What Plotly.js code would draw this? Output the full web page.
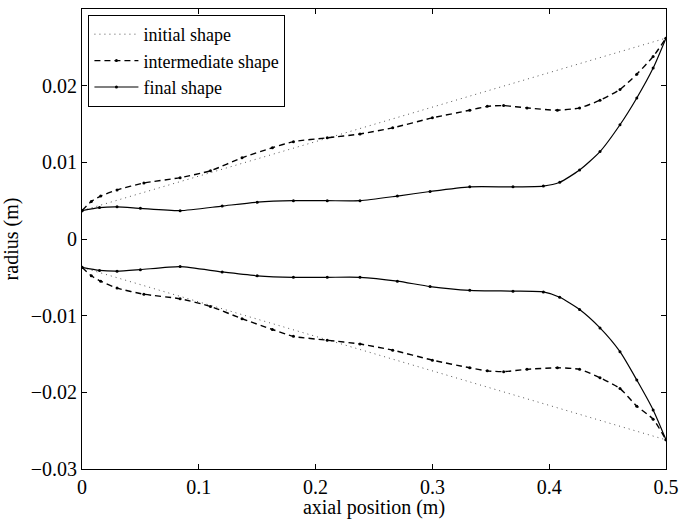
<!DOCTYPE html>
<html>
<head>
<meta charset="utf-8">
<script src="https://cdn.plot.ly/plotly-3.0.1.min.js"></script>
<style>html,body{margin:0;padding:0;background:#fff;}#chart{width:680px;height:519px;}</style>
</head>
<body>
<div id="chart"></div>
<script>
// Initial shape (straight cone)
const initialX = [0, 0.5];
const initialUpper = [0.0037, 0.0262];
const initialLower = [-0.0037, -0.0262];

// Intermediate shape
const interX = [0, 0.008, 0.016, 0.03, 0.053, 0.084, 0.11, 0.137, 0.163, 0.181, 0.21, 0.238, 0.266, 0.3, 0.332, 0.347, 0.361, 0.381, 0.407, 0.426, 0.4435, 0.4606, 0.475, 0.489, 0.5];
const interUpper = [0.0037, 0.0049, 0.0056, 0.0064, 0.0073, 0.0080, 0.0089, 0.0106, 0.0119, 0.0127, 0.0132, 0.0137, 0.0145, 0.0158, 0.0168, 0.0173, 0.0174, 0.0171, 0.0168, 0.0171, 0.0181, 0.0195, 0.0215, 0.0238, 0.0262];
const interLower = [-0.0037, -0.0048, -0.0055, -0.0064, -0.0072, -0.0078, -0.0088, -0.0104, -0.0118, -0.0127, -0.0132, -0.0137, -0.0145, -0.0158, -0.0168, -0.0172, -0.0173, -0.0170, -0.0168, -0.0170, -0.0181, -0.0195, -0.0218, -0.0235, -0.0262];

// Final shape
const finalX = [0, 0.015, 0.03, 0.05, 0.084, 0.12, 0.15, 0.181, 0.21, 0.238, 0.27, 0.298, 0.332, 0.369, 0.395, 0.409, 0.426, 0.4435, 0.4606, 0.475, 0.489, 0.5];
const finalUpper = [0.0037, 0.0041, 0.0042, 0.0040, 0.0037, 0.0043, 0.0048, 0.0050, 0.0050, 0.0050, 0.0056, 0.0062, 0.0068, 0.0068, 0.0069, 0.0074, 0.0090, 0.0114, 0.0149, 0.0184, 0.0223, 0.0262];
const finalLower = [-0.0037, -0.0041, -0.0042, -0.0040, -0.0036, -0.0043, -0.0048, -0.0050, -0.0050, -0.0050, -0.0055, -0.0062, -0.0067, -0.0068, -0.0069, -0.0076, -0.0092, -0.0116, -0.0147, -0.0184, -0.0223, -0.0262];

const xTicks = [0, 0.1, 0.2, 0.3, 0.4, 0.5];
const yTicks = [-0.03, -0.02, -0.01, 0, 0.01, 0.02, 0.03];

const FONT = 'Liberation Serif, Times New Roman, serif';
const FS = 20;

const initLine = {color: '#555', width: 1, dash: '1px,4px'};
const interLine = {color: '#000', width: 1.4, dash: '6px,4px', shape: 'spline', smoothing: 0.6};
const finalLine = {color: '#000', width: 1.2, shape: 'spline', smoothing: 0.6};
const dotMarker = {size: 3, color: '#000'};

const traces = [
  {x: initialX, y: initialUpper, mode: 'lines', name: 'initial shape', line: initLine, legendgroup: 'a'},
  {x: interX, y: interUpper, mode: 'lines+markers', name: 'intermediate shape', line: interLine, marker: dotMarker, legendgroup: 'b'},
  {x: finalX, y: finalUpper, mode: 'lines+markers', name: 'final shape', line: finalLine, marker: dotMarker, legendgroup: 'c'},
  {x: initialX, y: initialLower, mode: 'lines', name: 'initial shape', line: initLine, showlegend: false, legendgroup: 'a'},
  {x: interX, y: interLower, mode: 'lines+markers', name: 'intermediate shape', line: interLine, marker: dotMarker, showlegend: false, legendgroup: 'b'},
  {x: finalX, y: finalLower, mode: 'lines+markers', name: 'final shape', line: finalLine, marker: dotMarker, showlegend: false, legendgroup: 'c'}
];

const axisCommon = {
  showgrid: false, zeroline: false, showline: true, linecolor: '#000', linewidth: 1,
  mirror: 'ticks', ticks: 'inside', ticklen: 5, tickcolor: '#000', tickwidth: 1,
  tickfont: {family: FONT, size: FS, color: '#000'}, automargin: false
};

const layout = {
  width: 680, height: 519,
  margin: {l: 82, r: 14, t: 9, b: 50},
  paper_bgcolor: '#fff', plot_bgcolor: '#fff',
  font: {family: FONT, size: FS, color: '#000'},
  xaxis: Object.assign({}, axisCommon, {
    range: [0, 0.5], tickvals: xTicks, ticktext: xTicks.map(String),
    title: {text: 'axial position (m)', font: {family: FONT, size: FS, color: '#000'}, standoff: 0}
  }),
  yaxis: Object.assign({}, axisCommon, {
    range: [-0.03, 0.03], tickvals: yTicks, ticktext: yTicks.map(v => v < 0 ? '\u2212' + String(-v) : String(v)),
    title: {text: 'radius (m)', font: {family: FONT, size: FS, color: '#000'}, standoff: 6}
  }),
  showlegend: true,
  legend: {
    x: 0.011, y: 0.987, xanchor: 'left', yanchor: 'top',
    bgcolor: '#fff', bordercolor: '#000', borderwidth: 1,
    font: {family: FONT, size: FS - 2, color: '#000'},
    tracegroupgap: 0, itemwidth: 44
  }
};

Plotly.newPlot('chart', traces, layout, {displayModeBar: false, staticPlot: true});
</script>
</body>
</html>
